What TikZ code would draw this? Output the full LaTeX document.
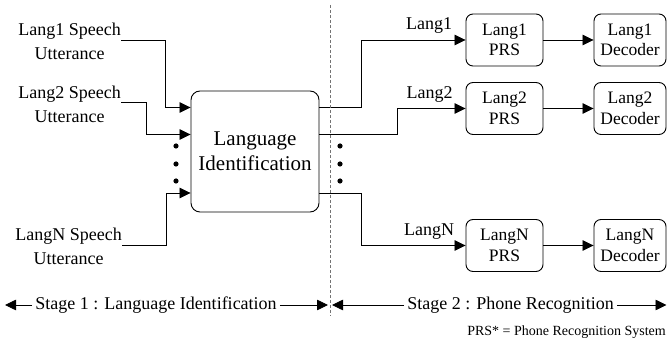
\documentclass[tikz,border=0pt]{standalone}
\usepackage{fontspec}
\setmainfont{Liberation Serif}
\usetikzlibrary{arrows.meta,calc,positioning}
\tikzset{
    lidbox/.style={draw=black,line width=0.9pt,rounded corners=9pt,minimum width=128pt,minimum height=121pt,inner sep=0pt,align=center,font=\fontsize{21}{25}\selectfont},
    prsbox/.style={draw=black,line width=0.9pt,rounded corners=7pt,minimum width=77pt,minimum height=52pt,inner sep=0pt,align=center,font=\fontsize{17.5}{20.5}\selectfont},
    lbl/.style={inner sep=0pt,font=\fontsize{18}{21}\selectfont},
    flow/.style={line width=0.8pt,draw=black,-{Triangle[length=11pt,width=10.5pt]}},
    stagesep/.style={draw=black!55,line width=0.7pt,dash pattern=on 3pt off 2pt}
}
\begin{document}
\begin{tikzpicture}[x=1pt,y=-1pt]
  \useasboundingbox (0,0) rectangle (667,344);

  % stage 1: language identification
  \node[lidbox] (lid) at (255,151.5) {Language\\Identification};
  \coordinate (li1) at ($(lid.west)+(0,-44)$);
  \coordinate (li2) at ($(lid.west)+(0,-17)$);
  \coordinate (liN) at ($(lid.west)+(0,41.5)$);
  \coordinate (lo1) at ($(lid.east)+(0,-44)$);
  \coordinate (lo2) at ($(lid.east)+(0,-17)$);
  \coordinate (loN) at ($(lid.east)+(0,41.5)$);

  \node[lbl,anchor=south east] (in1) at (121,40)    {Lang1 Speech};
  \node[lbl,below=8pt of in1]  (in1u) {Utterance};
  \node[lbl,anchor=south east] (in2) at (121,102.5) {Lang2 Speech};
  \node[lbl,below=8pt of in2]  (in2u) {Utterance};
  \node[lbl,anchor=south east] (inN) at (122,245)   {LangN Speech};
  \node[lbl,below=8pt of inN]  (inNu) {Utterance};

  \draw[flow] (in1.south east) -| ($(li1)+(-25,0)$) -- (li1);
  \draw[flow] (in2.south east) -| ($(li2)+(-44,0)$) -- (li2);
  \draw[flow] (inN.south east) -| ($(liN)+(-24,0)$) -- (liN);

  % stage 2: phone recognition
  \foreach \i/\y in {1/40,2/108.5,N/245.5}{
    \node[prsbox] (prs\i) at (504.5,\y) {Lang\i\\PRS};
    \node[prsbox,minimum width=72pt] (dec\i) at (630,\y) {Lang\i\\Decoder};
    \draw[flow] (prs\i) -- (dec\i);
  }

  \draw[flow] (lo1) -| ($(prs1.west)+(-104,0)$)
    -- node[lbl,above=6pt,pos=0.65] (out1) {Lang1} (prs1.west);
  \draw[flow] (lo2) -| ($(prs2.west)+(-68,0)$)
    -- node[lbl,above=6pt,pos=0.47] (out2) {Lang2} (prs2.west);
  \draw[flow] (loN) -| ($(prsN.west)+(-104,0)$)
    -- node[lbl,above=6pt,pos=0.65] (outN) {LangN} (prsN.west);

  % dots for the other languages
  \foreach \y in {146,164,181}{
    \fill (176,\y) circle (2.6pt);
    \fill (340,\y) circle (2.6pt);
  }

  \draw[stagesep] (330,5) -- (330,316);

  % stage arrows
  \node[lbl,inner xsep=3pt] (st1) at (156,305) {Stage 1 : Language Identification};
  \node[lbl,inner xsep=3pt] (st2) at (510.5,305) {Stage 2 : Phone Recognition};
  \coordinate (s1l) at (5,305);
  \coordinate (s1r) at (328,305);
  \coordinate (s2l) at (332,305);
  \coordinate (s2r) at (666.5,305);
  \draw[flow] (st1.west) -- (s1l);
  \draw[flow] (st1.east) -- (s1r);
  \draw[flow] (st2.west) -- (s2l);
  \draw[flow] (st2.east) -- (s2r);

  \node[inner sep=0pt,font=\fontsize{14}{16}\selectfont,anchor=base east] (note)
    at (666,336) {PRS* = Phone Recognition System};
\end{tikzpicture}
\end{document}
